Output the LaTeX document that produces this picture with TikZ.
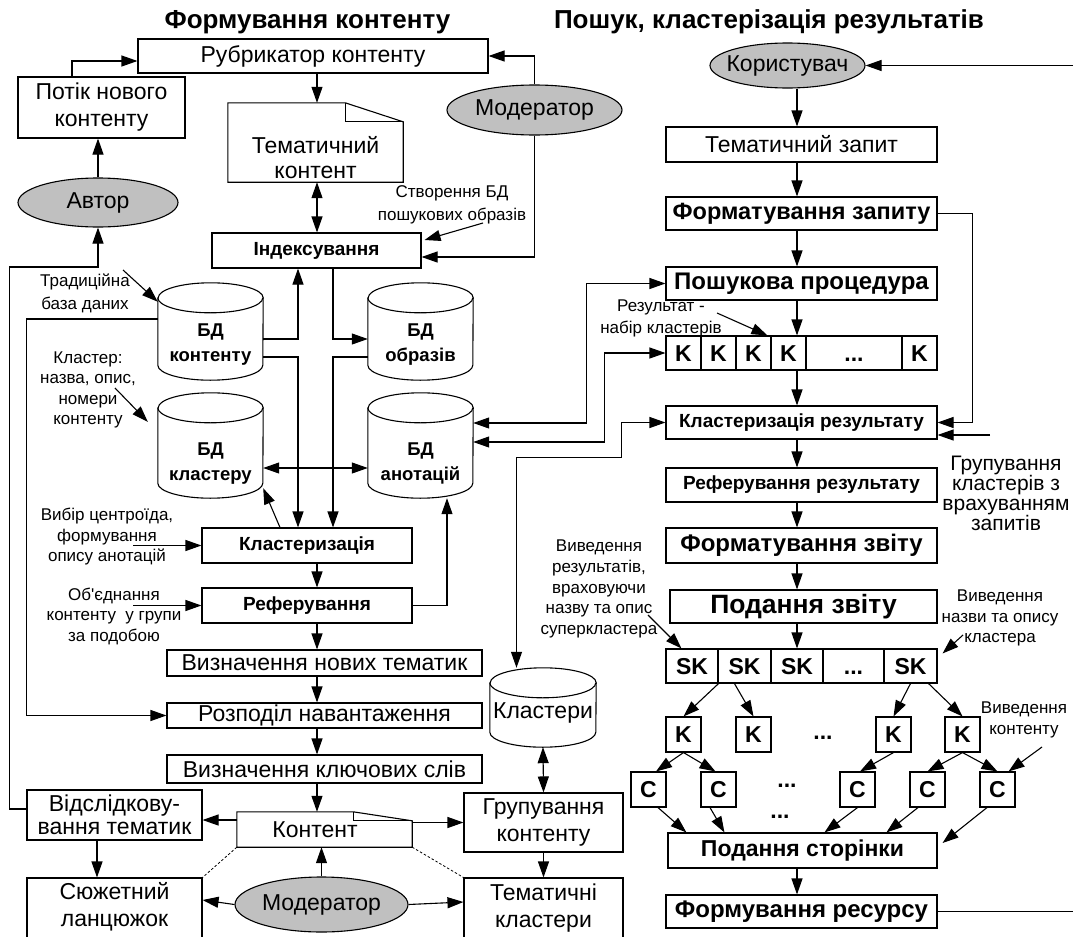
\documentclass[tikz,border=0pt]{standalone}
\usepackage{fontspec}
\setmainfont{Liberation Sans}
\usetikzlibrary{shapes.geometric,arrows.meta}
\definecolor{ellgray}{RGB}{192,192,192}
\newcommand\fsN{\fontsize{23}{27}\selectfont}
\newcommand\fsL{\fontsize{17}{20.5}\selectfont}
\newcommand\fsG{\fontsize{21}{20}\selectfont}
\newcommand\fsB{\fontsize{19}{22}\selectfont\bfseries}
\newcommand\fsC{\fontsize{18.5}{25}\selectfont\bfseries}
\newcommand\fsBB{\fontsize{23.5}{27}\selectfont\bfseries}
\newcommand\fsBP{\fontsize{24}{28}\selectfont\bfseries}
\newcommand\fsBS{\fontsize{23}{27}\selectfont\bfseries}
\newcommand\fsBBB{\fontsize{26.5}{30}\selectfont\bfseries}
\newcommand\fsT{\fontsize{26}{30}\selectfont\bfseries}
\newcommand\zw[1]{\makebox[0pt]{#1}}
\newcommand\mybox[7]{\node[#6, minimum width={(#4)-(#2)}, minimum height={(#5)-(#3)}] (#1) at ({((#2)+(#4))/2},{((#3)+(#5))/2}) {#7};}
\newcommand\cylshape[2]{%
  \draw[ln] ([yshift=-15pt]#1.north west) -- ([yshift=15pt]#1.south west)
    arc[start angle=180, end angle=360, x radius=#2pt, y radius=15pt]
    -- ([yshift=-15pt]#1.north east)
    arc[start angle=0, end angle=180, x radius=#2pt, y radius=15pt] -- cycle;
  \draw[ln] ([yshift=-15pt]#1.north west)
    arc[start angle=180, end angle=360, x radius=#2pt, y radius=15pt];}
\begin{document}
\begin{tikzpicture}[x=1pt,y=-1pt,
  ln/.style={line width=1.1pt},
  box/.style={draw, line width=1.1pt, inner sep=0pt, align=center, fill=white},
  txt/.style={inner sep=0pt, align=center},
  cell/.style={draw, line width=1.1pt, inner sep=0pt, fill=white, font=\fontsize{23}{27}\selectfont\bfseries, text height=16.5pt, text depth=0pt},
  actor/.style={ellipse, draw, line width=1.1pt, fill=ellgray, inner sep=0pt, font=\fsN},
  arr/.style={line width=1.1pt, -{Triangle[length=16pt,width=11pt]}},
  darr/.style={line width=1.1pt, {Triangle[length=16pt,width=11pt]}-{Triangle[length=16pt,width=11pt]}},
  dotl/.style={line width=0.8pt, dash pattern=on 2.5pt off 2pt},
]
\useasboundingbox (0,0) rectangle (1074,937);
\fill[white] (0,0) rectangle (1074,937);

% titles
\node[txt, font=\fsT, anchor=base] (t1) at (307.5,28) {Формування контенту};
\node[txt, font=\fsT, anchor=base] (t2) at (769,28) {Пошук, кластерізація результатів};

% ---------- left part ----------
\mybox{rub}{138}{39}{488}{73}{box,font=\fsN}{Рубрикатор контенту}
\mybox{potik}{18}{77}{185}{138}{box,font=\fsN}{Потік нового\\контенту}
\node[actor, minimum width=160pt, minimum height=49pt] (avtor) at (98,202.5) {\zw{Автор}};

\mybox{temdoc}{228}{103}{403}{182}{txt}{}
\draw[ln] (temdoc.north west) -- ([xshift=-58pt]temdoc.north east) -- ([yshift=-19pt]temdoc.north east) -- (temdoc.south east) -- (temdoc.south west) -- cycle;
\draw[ln] ([xshift=-58pt]temdoc.north east) -- ++(0,19) -- ([yshift=-19pt]temdoc.north east);
\node[txt, font=\fsN] (temtxt) at (315.5,157.5) {Тематичний\\[-2pt]контент};

\node[actor, minimum width=175pt, minimum height=50pt] (mod1) at (534.5,110) {\zw{Модератор}};
\mybox{idx}{212}{233}{421}{268}{box,font=\fsB}{Індексування}
\node[txt, font=\fsL] (stv) at (452,205) {Створення БД\\[2pt]пошукових образів};
\coordinate (stvA) at (483,223);

\mybox{bdk}{158}{283}{263}{380}{txt}{}
\cylshape{bdk}{52.5}
\node[txt, font=\fsC] (bdktxt) at (210.5,344.5) {БД\\контенту};
\mybox{bdo}{368}{283}{473}{380}{txt}{}
\cylshape{bdo}{52.5}
\node[txt, font=\fsC] (bdotxt) at (420.5,344.5) {БД\\образів};
\mybox{bdkl}{158}{393}{263}{498}{txt}{}
\cylshape{bdkl}{52.5}
\node[txt, font=\fsC] (bdkltxt) at (210.5,463.5) {БД\\кластеру};
\mybox{bda}{368}{393}{473}{498}{txt}{}
\cylshape{bda}{52.5}
\node[txt, font=\fsC] (bdatxt) at (420.5,463.5) {БД\\анотацій};

\node[txt, font=\fsL] (trad) at (85,293.5) {Традиційна\\[2pt]база даних};
\coordinate (tradA) at (123,270);
\node[txt, font=\fsL] (klab) at (88,390) {Кластер:\\назва, опис,\\номери\\контенту};
\coordinate (klA) at (115,388);

\mybox{klast}{202}{528}{412}{563}{box,font=\fsB}{Кластеризація}
\node[txt, font=\fsL] (vib) at (107,537) {Вибір центроїда,\\формування\\опису анотацій};
\coordinate (vibA) at (133,545.5);
\mybox{ref}{202}{588}{412}{623}{box,font=\fsB}{Реферування}
\node[txt, font=\fsL] (obj) at (114,616) {Об\textquotesingle{}єднання\\контенту\ \ у групи\\за подобою};
\coordinate (objA) at (133,605.5);

\mybox{viz1}{167}{650}{482}{676}{box,font=\fsN}{Визначення нових тематик}
\mybox{roz}{167}{703}{482}{728}{box,font=\fsN}{Розподіл навантаження}
\mybox{vkl}{167}{755}{482}{783}{box,font=\fsN}{Визначення ключових слів}

\mybox{kont}{237}{812}{412}{847}{txt}{}
\draw[ln] (kont.north west) -- ([xshift=-59pt]kont.north east) -- ([yshift=-9pt]kont.north east) -- (kont.south east) -- (kont.south west) -- cycle;
\draw[ln] ([xshift=-59pt]kont.north east) -- ++(0,9) -- ([yshift=-9pt]kont.north east);
\node[txt, font=\fsN] (konttxt) at (315,829.5) {Контент};

\mybox{vids}{27}{790}{202}{840}{box,font=\fontsize{23}{23}\selectfont}{Відслідкову-\\вання тематик}
\mybox{sjuz}{27}{878}{202}{945}{box}{}
\node[txt, font=\fsN] (sjuztxt) at (114.5,906.5) {Сюжетний\\ланцюжок};
\node[actor, minimum width=173pt, minimum height=55pt] (mod2) at (321.5,904.5) {\zw{Модератор}};
\mybox{grup}{464}{793}{623}{852}{box,font=\fsN}{Групування\\контенту}
\mybox{tem}{464}{878}{623}{945}{box}{}
\node[txt, font=\fsN] (temtxt2) at (543.5,908.5) {Тематичні\\кластери};
\mybox{klc}{490}{668}{596}{747}{txt}{}
\cylshape{klc}{53}
\node[txt, font=\fsN] (klctxt) at (543,713) {Кластери};

% ---------- right part ----------
\node[actor, minimum width=155pt, minimum height=45pt] (kor) at (787.5,65.5) {\zw{Користувач}};
\mybox{tz}{666}{127}{937}{162}{box,font=\fsN}{Тематичний запит}
\mybox{fz}{666}{197}{937}{230}{box,font=\fsBB}{Форматування запиту}
\mybox{posh}{666}{267}{937}{300}{box,font=\fsBP}{Пошукова процедура}

\mybox{k1}{666}{336}{701}{370}{cell}{K}
\mybox{k2}{701}{336}{736}{370}{cell}{K}
\mybox{k3}{736}{336}{771}{370}{cell}{K}
\mybox{k4}{771}{336}{806}{370}{cell}{K}
\mybox{k5}{806}{336}{902}{370}{cell}{...}
\mybox{k6}{902}{336}{937}{370}{cell}{K}

\mybox{klr}{666}{406}{937}{439}{box,font=\fsB}{Кластеризація результату}
\mybox{refr}{666}{468}{937}{502}{box,font=\fsB}{Реферування результату}
\mybox{fzv}{666}{528}{937}{563}{box,font=\fsBP}{Форматування звіту}
\mybox{pz}{670}{590}{937}{623}{box,font=\fsBBB}{Подання звіту}

\mybox{s1}{666}{649}{718}{683}{cell}{SK}
\mybox{s2}{718}{649}{771}{683}{cell}{SK}
\mybox{s3}{771}{649}{823}{683}{cell}{SK}
\mybox{s4}{823}{649}{884}{683}{cell}{...}
\mybox{s5}{884}{649}{937}{683}{cell}{SK}

\mybox{kk1}{666}{717}{701}{752}{cell}{K}
\mybox{kk2}{736}{717}{771}{752}{cell}{K}
\mybox{kk3}{876}{717}{911}{752}{cell}{K}
\mybox{kk4}{945}{717}{980}{752}{cell}{K}
\node[txt, font=\fsBS] (d1) at (823,738) {...};

\mybox{c1}{631}{772}{666}{807}{cell}{C}
\mybox{c2}{701}{772}{736}{807}{cell}{C}
\mybox{c3}{840}{772}{875}{807}{cell}{C}
\mybox{c4}{910}{772}{945}{807}{cell}{C}
\mybox{c5}{980}{772}{1015}{807}{cell}{C}
\node[txt, font=\fsBS] (d2) at (787,786) {...};
\node[txt, font=\fsBS] (d3) at (780,817) {...};

\mybox{ps}{668}{833}{937}{868}{box,font=\fsBS}{Подання сторінки}
\mybox{fr}{666}{895}{937}{928}{box,font=\fsBP}{Формування ресурсу}

\node[txt, font=\fsL] (res) at (661,318.5) {Результат -\\[2pt]набір кластерів};
\coordinate (resA) at (717,313);
\node[txt, font=\fsG] (grl) at (1006,493) {Групування\\кластерів з\\врахуванням\\запитів};
\coordinate (grA) at (990,435);
\node[txt, font=\fontsize{17}{20.8}\selectfont] (vres) at (599,589) {Виведення\\результатів,\\враховуючи\\назву та опис\\суперкластера};
\coordinate (vrA) at (648,615);
\node[txt, font=\fontsize{17}{20.8}\selectfont] (vnaz) at (1000,618) {Виведення\\назви та опису\\кластера};
\coordinate (vnA) at (963,635);
\node[txt, font=\fsL] (vkon) at (1024,720) {Виведення\\контенту};
\coordinate (vkA) at (1042,747);

\coordinate (korA) at (1073,65.5);
\coordinate (frA) at (1073,911.5);
\coordinate (cx) at (797,0);
\coordinate (cxl) at (317,0);
\coordinate (kvy) at ([yshift=-5pt]vids.east);

% ---------- connectors: left ----------
\draw[arr] ([xshift=-29.5pt]potik.north) |- ([yshift=-5pt]rub.west);
\draw[arr] (avtor.north) -- (potik.south -| avtor.north);
\draw[arr] (mod1.north) |- (rub.east);
\draw[arr] (mod1.south) |- ([yshift=-6.5pt]idx.east);
\draw[arr] (stvA) -- ([xshift=3pt,yshift=10.5pt]idx.east);
\draw[arr] (rub.south -| cxl) -- (temdoc.north -| cxl);
\draw[darr] (temdoc.south -| cxl) -- (idx.north -| cxl);
\draw[arr] ([yshift=-7.5pt]bdk.east) -| ([xshift=-18.5pt]idx.south);
\draw[arr] ([xshift=16.5pt]idx.south) |- ([yshift=-7.5pt]bdo.west);
\draw[arr] ([yshift=-25.5pt]bdk.east) -| ([xshift=-9pt]klast.north);
\draw[arr] ([yshift=-25.5pt]bdo.west) -| ([xshift=26pt]klast.north);
\draw[darr] ([yshift=-22.5pt]bdkl.east) -- ([yshift=-22.5pt]bda.west);
\draw[arr] ([xshift=-27pt]klast.north) -- ([yshift=10pt]bdkl.south east);
\draw[arr] (ref.east) -| ([xshift=26.5pt]bda.south);
\draw[arr] (tradA) -- ([yshift=-19pt]bdk.north west);
\draw[arr] (klA) -- ([xshift=-10pt,yshift=-29pt]bdkl.north west);
\draw[arr] (vibA) -- (klast.west);
\draw[arr] (objA) -- (ref.west);
\draw[arr] (klast.south -| cxl) -- (ref.north -| cxl);
\draw[arr] (ref.south -| cxl) -- (viz1.north -| cxl);
\draw[arr] (viz1.south -| cxl) -- (roz.north -| cxl);
\draw[arr] (roz.south -| cxl) -- (vkl.north -| cxl);
\draw[arr] (vkl.south -| cxl) -- (kont.north -| cxl);
\draw[arr] ([yshift=12.5pt]bdk.west) -- ++(-131,0) |- (roz.west);
\draw[arr] ([yshift=6pt]vids.west) -- ++(-17,0) -- ++(0,-542) -| (avtor.south);
\draw[arr] (kont.west |- kvy) -- (kvy);
\draw[arr] ([xshift=-17.5pt]vids.south) -- ([xshift=-17.5pt]sjuz.north);
\draw[arr] (mod2.north) -- (kont.south -| mod2.north);
\draw[arr] (mod2.west) -- ([yshift=11.5pt]sjuz.east);
\draw[arr] (mod2.east) -- ([yshift=9.5pt]tem.west);
\draw[dotl] (kont.south west) -- (sjuz.north east);
\draw[dotl] (kont.south east) -- (tem.north west);
\draw[arr] (kont.east |- grup.west) -- (grup.west);
\draw[darr] (klc.south) -- (grup.north);
\draw[arr] (grup.south) -- (tem.north);

% ---------- connectors: middle ----------
\draw[darr] ([xshift=-26.5pt]klc.north) -- ++(0,-210) -- ++(105,0) |- (klr.west);
\draw[darr] ([yshift=3.5pt]bda.east) -| ([xshift=-61pt]k1.west) -- (k1.west);
\draw[darr] ([yshift=22.5pt]bda.east) -| ([xshift=-79pt]posh.west) -- (posh.west);

% ---------- connectors: right ----------
\draw[arr] (korA) -- (kor.east);
\draw[arr] (kor.south -| cx) -- (tz.north -| cx);
\draw[arr] (tz.south -| cx) -- (fz.north -| cx);
\draw[arr] (fz.south -| cx) -- (posh.north -| cx);
\draw[arr] (posh.south -| cx) -- (k4.north -| cx);
\draw[arr] (k4.south -| cx) -- (klr.north -| cx);
\draw[arr] (klr.south -| cx) -- (refr.north -| cx);
\draw[arr] (refr.south -| cx) -- (fzv.north -| cx);
\draw[arr] (fzv.south -| cx) -- (pz.north -| cx);
\draw[arr] (pz.south -| cx) -- (s3.north -| cx);
\draw[arr] (ps.south -| cx) -- (fr.north -| cx);
\draw[arr] (fz.east) -- ++(35,0) |- (klr.east);
\draw[arr] (grA) -- (klr.east |- grA);
\draw[arr] (resA) -- ([xshift=-3pt]k4.north west);
\draw[arr] (vrA) -- ([xshift=16pt]s1.north west);
\draw[arr] (vnA) -- ([xshift=5pt,yshift=-5pt]s5.north east);
\draw[arr] (s1.south east) -- (kk1.north);
\draw[arr] ([xshift=17pt]s2.south west) -- (kk2.north);
\draw[arr] (s5.south) -- (kk3.north);
\draw[arr] ([xshift=-9pt]s5.south east) -- (kk4.north);
\draw[arr] (kk1.south) -- ([xshift=7.5pt]c1.north);
\draw[arr] (kk1.south) -- ([xshift=-3pt]c2.north);
\draw[arr] (kk3.south) -- ([xshift=2.5pt]c3.north);
\draw[arr] (kk4.south) -- (c4.north);
\draw[arr] (kk4.south) -- (c5.north);
\draw[arr] (vkA) -- ([xshift=-7pt]c5.north east);
\draw[arr] ([xshift=9.5pt]c1.south) -- ([xshift=19pt]ps.north west);
\draw[arr] ([xshift=-8.5pt]c2.south) -- ([xshift=57pt]ps.north west);
\draw[arr] (c3.south) -- ([xshift=157pt]ps.north west);
\draw[arr] ([xshift=-9.5pt]c4.south) -- ([xshift=219pt]ps.north west);
\draw[arr] ([xshift=-10.5pt]c5.south) -- ([xshift=5pt,yshift=7.5pt]ps.east);
\draw[ln] (fr.east) -- (frA);
\end{tikzpicture}
\end{document}
